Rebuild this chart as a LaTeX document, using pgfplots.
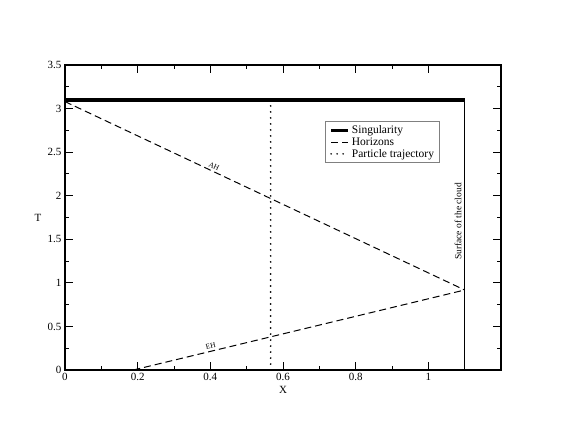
\documentclass[border=0pt]{standalone}
\usepackage{pgfplots}
\pgfplotsset{compat=1.18}
\usepackage{fontspec}
\setmainfont{Liberation Serif}
\begin{document}
\begin{tikzpicture}
\path[use as bounding box] (-65pt,-66pt) rectangle (499pt,370pt);
\begin{axis}[
    at={(0pt,0pt)}, anchor=south west,
    scale only axis, width=436pt, height=305pt,
    xmin=0, xmax=1.2, ymin=0, ymax=3.5,
    xtick={0,0.2,0.4,0.6,0.8,1},
    ytick={0,0.5,1,1.5,2,2.5,3,3.5},
    minor x tick num=1, minor y tick num=1,
    tick align=inside,
    major tick length=8pt, minor tick length=4pt,
    tick style={line width=0.9pt, black},
    axis line style={line width=1.2pt},
    /pgf/number format/assume math mode=true,
    ticklabel style={font=\fontsize{11}{13}\selectfont},
    xlabel={X}, ylabel={T},
    label style={font=\fontsize{11}{13}\selectfont},
    xlabel style={at={(axis description cs:0.5,-0.0656)}, anchor=center},
    ylabel style={at={(axis description cs:-0.0619,0.5)}, anchor=center, rotate=-90},
    legend style={at={(rel axis cs:0.596,0.816)}, anchor=north west,
        draw=gray, line width=1pt, font=\fontsize{11.5}{12}\selectfont,
        inner xsep=4pt, inner ysep=2pt, row sep=-1.5pt},
    legend cell align=left,
]
% Singularity
\addplot[black, line width=3.5pt, line cap=butt] coordinates {(0,3.1) (1.1,3.1)};
\addlegendentry{Singularity}
% apparent horizon
\addplot[black, line width=1pt, dash pattern=on 7pt off 4pt] coordinates {(0,3.08) (1.1,0.918)};
\addlegendentry{Horizons}
% event horizon
\addplot[black, line width=1pt, dash pattern=on 7pt off 4pt, forget plot] coordinates {(0.188,0) (1.1,0.918)};
% particle trajectory
\addplot[black, line width=1.8pt, dash pattern=on 0pt off 6pt, line cap=round] coordinates {(0.566,0) (0.566,3.11)};
\addlegendentry{Particle trajectory}
% surface of the cloud
\addplot[black, line width=1.5pt, forget plot] coordinates {(1.1,0) (1.1,3.1)};
\node[rotate=-25.1, anchor=south, inner sep=2.5pt, font=\fontsize{7.5}{8}\selectfont] at (axis cs:0.404,2.286) {AH};
\node[rotate=13.5, anchor=south, inner sep=2.5pt, font=\fontsize{7.5}{8}\selectfont] at (axis cs:0.404,0.217) {EH};
\node[rotate=90, font=\fontsize{9.5}{10}\selectfont] at (axis cs:1.082,1.704) {Surface of the cloud};
\end{axis}
\end{tikzpicture}
\end{document}
